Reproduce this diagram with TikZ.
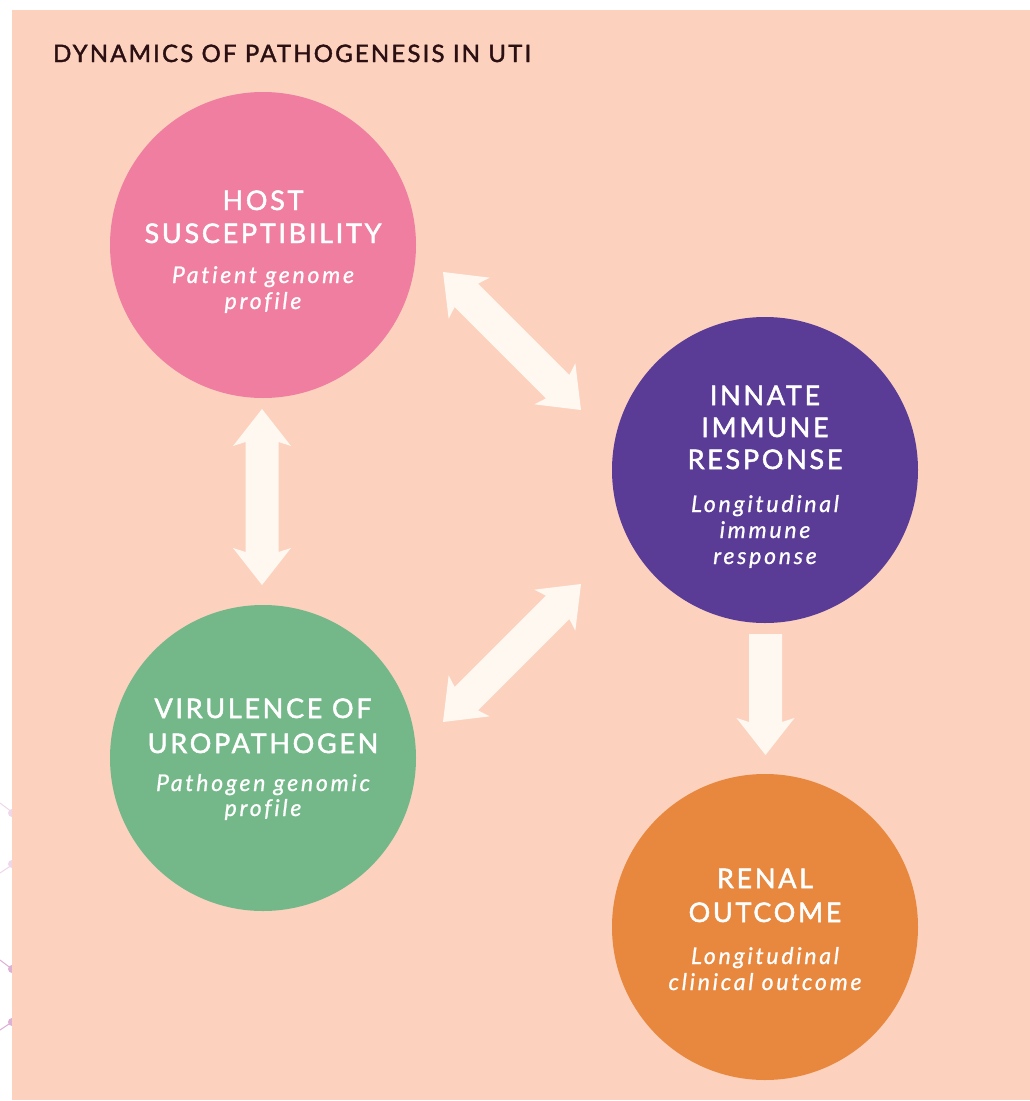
\documentclass[tikz,border=0pt]{standalone}
\usepackage{fontspec}
\setmainfont{Lato}
\newfontfamily\titlefont[LetterSpace=9,FakeBold=1.6]{Lato}
\newfontfamily\headfont[LetterSpace=10,FakeBold=1.8]{Lato}
\newfontfamily\subfont[LetterSpace=12,FakeBold=0.9,Ligatures={NoCommon,NoContextual}]{Lato Italic}
\usetikzlibrary{calc}
\definecolor{bgpeach}{HTML}{FCD2BF}
\definecolor{hostpink}{HTML}{F07EA0}
\definecolor{immpurple}{HTML}{5A3B96}
\definecolor{virgreen}{HTML}{74B88A}
\definecolor{renorange}{HTML}{E8883F}
\definecolor{arrowcream}{HTML}{FEF8F0}
\definecolor{titlebrown}{HTML}{2B0F12}
\definecolor{lilac}{HTML}{DDB0D5}
\tikzset{
  bubble/.style={circle, minimum size=306pt, inner sep=0pt, draw=none},
  headline/.style={anchor=base, text=white, font=\headfont\fontsize{27}{30}\selectfont, inner sep=0pt},
  subline/.style={anchor=base, text=white, font=\subfont\fontsize{23}{24}\selectfont, inner sep=0pt},
  arrowfill/.style={fill=arrowcream, draw=none},
  deco/.style={draw=lilac, line width=1pt}
}
\newcommand\dblarrow[2]{%
  \coordinate (#1#2ab) at ($(#1)!37pt!(#2)$);
  \coordinate (#1#2an) at ($(#1)!33pt!(#2)$);
  \coordinate (#1#2bb) at ($(#2)!37pt!(#1)$);
  \coordinate (#1#2bn) at ($(#2)!33pt!(#1)$);
  \fill[arrowfill] (#1) -- ($(#1#2ab)!29pt!90:(#2)$) -- ($(#1#2an)!16.5pt!90:(#2)$)
    -- ($(#1#2bn)!16.5pt!-90:(#1)$) -- ($(#1#2bb)!29pt!-90:(#1)$) -- (#2)
    -- ($(#1#2bb)!29pt!90:(#1)$) -- ($(#1#2bn)!16.5pt!90:(#1)$)
    -- ($(#1#2an)!16.5pt!-90:(#2)$) -- ($(#1#2ab)!29pt!-90:(#2)$) -- cycle;
}
\begin{document}
\begin{tikzpicture}[x=1pt,y=-1pt]
\useasboundingbox (0,0) rectangle (1030,1101);
% faint decoration in left margin
\draw[deco, draw=lilac!50] (0,803) -- (12,812);
\fill[lilac!50] (12,813) circle (4);
\draw[deco, draw=lilac!50] (0,873) -- (12,865);
\fill[lilac!50] (12,864) circle (4);
\draw[deco] (0,960) -- (12,969);
\fill[lilac] (12,969) circle (4);
\draw[deco] (0,1030) -- (12,1022);
\fill[lilac] (12,1022) circle (4);
% background
\fill[bgpeach] (12,10) rectangle (1030,1100);
% title
\node[anchor=base west, inner sep=0pt, text=titlebrown, font=\titlefont\fontsize{24}{26}\selectfont] (title) at (53,62) {DYNAMICS OF PATHOGENESIS IN UTI};
% circles
\node[bubble, fill=hostpink] (host) at (263,245) {};
\node[bubble, fill=immpurple] (innate) at (765,470) {};
\node[bubble, fill=virgreen] (vir) at (263,758) {};
\node[bubble, fill=renorange] (renal) at (765,927) {};
% texts
\node[headline] (host1) at (263,210) {HOST};
\node[headline] (host2) at (263,243) {SUSCEPTIBILITY};
\node[subline] (host3) at (263,283) {Patient genome};
\node[subline] (host4) at (263,309) {profile};
\node[headline] (inn1) at (765,405) {INNATE};
\node[headline] (inn2) at (765,437) {IMMUNE};
\node[headline] (inn3) at (765,469) {RESPONSE};
\node[subline] (inn4) at (765,512) {Longitudinal};
\node[subline] (inn5) at (765,538) {immune};
\node[subline] (inn6) at (765,564) {response};
\node[headline] (vir1) at (263,718) {VIRULENCE OF};
\node[headline] (vir2) at (263,753) {UROPATHOGEN};
\node[subline] (vir3) at (263,791) {Pathogen genomic};
\node[subline] (vir4) at (263,816) {profile};
\node[headline] (ren1) at (765,888) {RENAL};
\node[headline] (ren2) at (765,922) {OUTCOME};
\node[subline] (ren3) at (765,964) {Longitudinal};
\node[subline] (ren4) at (765,990) {clinical outcome};
% arrow end points
\coordinate (hv1) at (262,409);
\coordinate (hv2) at (262,585);
\coordinate (hi1) at (443,272);
\coordinate (hi2) at (581,410);
\coordinate (vi1) at (581,584);
\coordinate (vi2) at (443,722);
\coordinate (ir1) at (765.5,634);
\coordinate (ir2) at (765.5,755);
% connectors
\dblarrow{hv1}{hv2}
\dblarrow{hi1}{hi2}
\dblarrow{vi1}{vi2}
\fill[arrowfill] ($(ir1)+(-16.5,0)$) -- ($(ir1)+(16.5,0)$) -- ($(ir2)+(16.5,-33)$) -- ($(ir2)+(29,-37)$)
  -- (ir2) -- ($(ir2)+(-29,-37)$) -- ($(ir2)+(-16.5,-33)$) -- cycle;
\end{tikzpicture}
\end{document}
